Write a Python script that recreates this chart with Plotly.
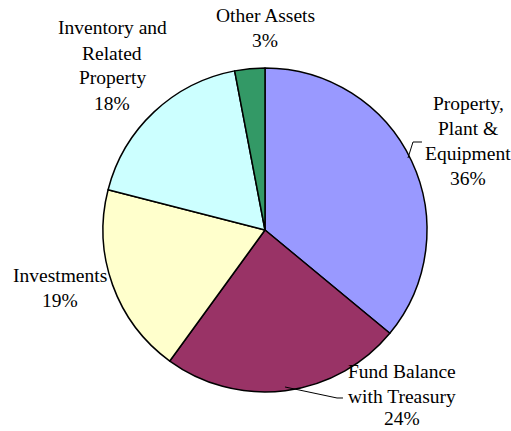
import plotly.graph_objects as go

W, H = 511, 431

categories = ["Property, Plant & Equipment", "Fund Balance with Treasury", "Investments",
              "Inventory and Related Property", "Other Assets"]
values = [36, 24, 19, 18, 3]
colors = ["#9999FF", "#993366", "#FFFFCC", "#CCFFFF", "#339966"]
label_lines = [["Property,", "Plant &", "Equipment", "36%"],
               ["Fund Balance", "with Treasury", "24%"],
               ["Investments", "19%"],
               ["Inventory and", "Related", "Property", "18%"],
               ["Other Assets", "3%"]]
# label layout in pixels: centre x, centre y of first line
label_pos = [(468, 103), (402, 371), (60, 275), (112, 28), (265, 15)]
LINE_STEP = 25
FONT = dict(family="Liberation Serif, Times New Roman, serif", size=19.5, color="black")

cx, cy, r = 265, 230, 162

fig = go.Figure(go.Pie(
    labels=categories, values=values, sort=False, direction="clockwise", rotation=0,
    marker=dict(colors=colors, line=dict(color="black", width=1.5)),
    textinfo="none", hoverinfo="label+percent", showlegend=False,
    domain=dict(x=[(cx - r) / W, (cx + r) / W], y=[(H - cy - r) / H, (H - cy + r) / H]),
))

for lines, (px, py) in zip(label_lines, label_pos):
    for i, t in enumerate(lines):
        yc = py + i * LINE_STEP
        if yc + 13 > H:
            # keep the line's box inside the page
            fig.add_annotation(text=t, x=px / W, y=0, xref="paper", yref="paper",
                               xanchor="center", yanchor="bottom", showarrow=False, font=FONT)
        else:
            fig.add_annotation(text=t, x=px / W, y=1 - yc / H, xref="paper", yref="paper",
                               xanchor="center", yanchor="middle", showarrow=False, font=FONT)

def path(pts):
    return "M " + " L ".join(f"{x / W:.4f},{1 - y / H:.4f}" for x, y in pts)

fig.add_shape(type="path", xref="paper", yref="paper",
              path=path([(408, 158), (413, 142), (422, 142)]), line=dict(color="black", width=1))
fig.add_shape(type="path", xref="paper", yref="paper",
              path=path([(285, 387), (337, 398), (343, 398)]), line=dict(color="black", width=1))

fig.update_layout(width=W, height=H, margin=dict(l=0, r=0, t=0, b=0),
                  paper_bgcolor="white", plot_bgcolor="white")
fig.write_html("out.html", config={"displayModeBar": False},
               post_script="document.body.style.margin='0';document.body.style.overflow='hidden';")
